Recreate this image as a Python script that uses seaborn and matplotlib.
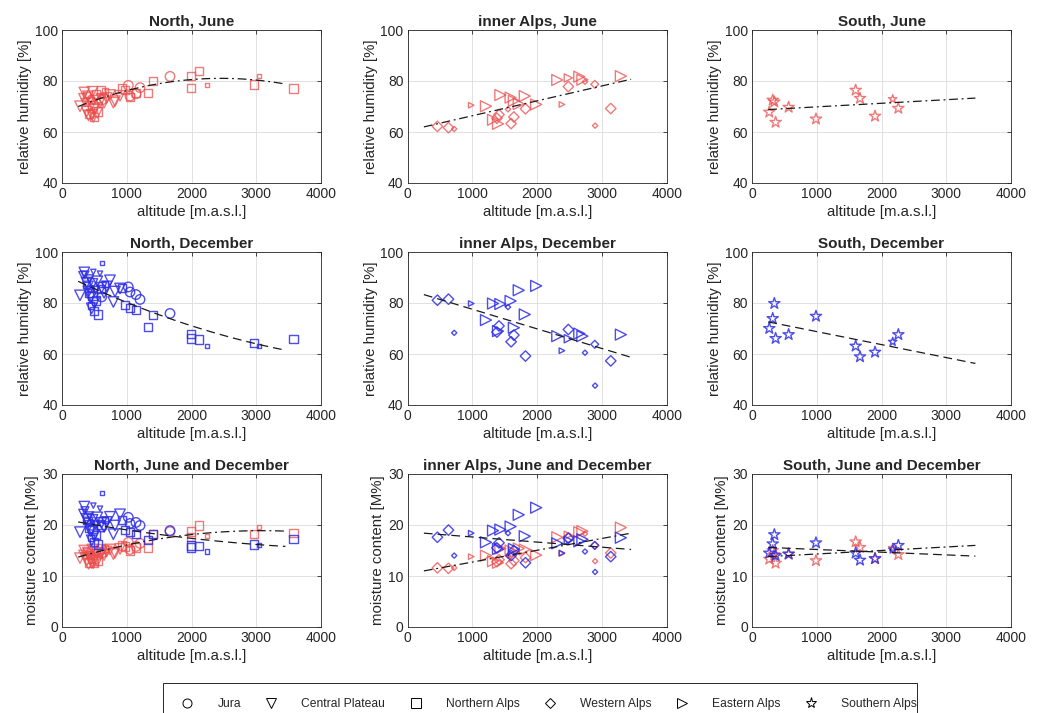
import numpy as np
import pandas as pd
import matplotlib
matplotlib.use("Agg")
import matplotlib.pyplot as plt
from matplotlib.lines import Line2D
from matplotlib.patches import Rectangle
import seaborn as sns

# ------------------------------------------------------------------
# Station data: altitude [m a.s.l.], weight class (1 small .. 3 large),
# relative humidity [%] and moisture content [M%] for June / December
# ------------------------------------------------------------------
jura_alt = [450, 613, 1024, 1050, 1143, 1205, 1668]
jura_w = [2, 3, 3, 3, 3, 3, 3]
jura_rh_jun = [73.0, 72.5, 78.3, 74.1, 75.0, 77.4, 81.8]
jura_rh_dec = [85.5, 82.4, 86.3, 84.3, 83.3, 81.4, 75.9]
jura_mc_jun = [14.6, 14.5, 16.6, 15.2, 15.8, 16.4, 18.7]
jura_mc_dec = [20.4, 19.6, 21.5, 20.3, 20.5, 19.9, 18.9]

plateau_alt = [278, 320, 345, 355, 380, 400, 410, 425, 440, 459, 470, 484,
               500, 520, 545, 587, 610, 650, 690, 741, 793, 818, 896]
plateau_w = [3, 2, 3, 2, 3, 3, 3, 2, 3, 3, 3, 1,
             3, 2, 3, 1, 3, 3, 3, 3, 3, 3, 3]
plateau_rh_jun = [70.1, 73.5, 75.5, 71.5, 68.0, 74.0, 66.5, 72.0, 70.0, 66.8, 75.8, 64.9,
                  69.0, 72.8, 67.5, 70.5, 73.0, 71.5, 73.4, 74.5, 71.5, 72.1, 74.2]
plateau_rh_dec = [83.0, 90.8, 92.0, 91.0, 88.0, 86.5, 84.5, 89.5, 82.0, 77.9, 87.5, 92.2,
                  80.0, 85.0, 88.5, 91.5, 86.0, 84.0, 86.5, 88.9, 80.4, 84.5, 85.7]
plateau_mc_jun = [13.5, 14.3, 15.0, 13.9, 13.0, 14.6, 12.4, 14.0, 13.4, 12.6, 15.2, 12.0,
                  13.2, 14.4, 12.9, 13.7, 14.5, 14.1, 14.8, 15.2, 14.3, 14.5, 15.3]
plateau_mc_dec = [18.6, 22.3, 23.6, 22.8, 21.2, 20.5, 19.8, 21.8, 18.8, 17.0, 21.0, 23.8,
                  18.0, 20.0, 21.5, 23.2, 20.4, 19.6, 20.6, 21.6, 18.2, 19.9, 22.1]

nalps_alt = [380, 420, 450, 470, 490, 520, 561, 600, 623, 660, 922, 973,
             1050, 1143, 1323, 1405, 1987, 1990, 2116, 2234, 2970, 3048, 3573]
nalps_w = [2, 3, 2, 3, 3, 3, 3, 3, 1, 2, 3, 3,
           3, 3, 3, 3, 3, 3, 3, 1, 3, 1, 3]
nalps_rh_jun = [74.5, 67.0, 72.5, 69.5, 66.0, 75.0, 68.0, 76.5, 74.0, 76.0, 77.0, 76.5,
                73.8, 75.3, 75.3, 79.9, 82.0, 77.2, 83.9, 78.4, 78.6, 82.0, 77.1]
nalps_rh_dec = [87.0, 84.0, 79.0, 83.0, 77.0, 81.0, 75.5, 85.5, 95.7, 87.5, 86.0, 79.1,
                78.1, 77.3, 70.5, 75.2, 67.8, 66.1, 65.7, 63.2, 64.3, 63.1, 66.0]
nalps_mc_jun = [14.8, 12.6, 14.2, 13.4, 12.5, 14.9, 13.0, 15.4, 15.0, 15.4, 16.0, 15.8,
                15.0, 15.6, 15.6, 18.3, 18.7, 17.6, 19.9, 17.8, 18.2, 19.6, 18.5]
nalps_mc_dec = [20.8, 19.5, 17.4, 19.2, 16.6, 18.1, 16.2, 20.1, 26.3, 21.0, 21.0, 19.0,
                18.6, 18.3, 17.0, 18.2, 16.0, 15.6, 15.9, 14.8, 16.2, 16.1, 17.3]

walps_alt = [459, 630, 718, 1378, 1410, 1549, 1597, 1640, 1819, 2481, 2738, 2889, 2894, 3136]
walps_w = [3, 3, 1, 3, 3, 1, 3, 3, 3, 3, 1, 2, 1, 3]
walps_rh_jun = [62.2, 61.7, 61.2, 65.4, 66.8, 68.9, 63.3, 65.9, 69.1, 77.8, 79.7, 78.7, 62.5, 69.2]
walps_rh_dec = [81.1, 81.5, 68.3, 68.6, 71.0, 78.4, 64.8, 67.4, 59.2, 69.6, 60.5, 63.8, 47.6, 57.3]
walps_mc_jun = [11.6, 11.5, 11.6, 12.8, 13.2, 14.0, 12.4, 13.0, 13.6, 17.5, 18.3, 16.0, 12.9, 14.5]
walps_mc_dec = [17.6, 19.0, 14.0, 15.5, 16.5, 18.4, 14.0, 15.0, 12.6, 17.4, 14.8, 16.0, 10.8, 13.8]

ealps_alt = [981, 1209, 1318, 1395, 1431, 1589, 1640, 1715, 1808, 1984, 2310, 2382,
             2481, 2650, 2698, 3292]
ealps_w = [1, 3, 3, 3, 3, 3, 3, 3, 3, 3, 3, 1, 2, 3, 3, 3]
ealps_rh_jun = [70.5, 70.1, 64.8, 63.2, 74.5, 73.5, 72.2, 71.0, 74.1, 70.8, 80.4, 70.8,
                81.2, 81.7, 80.5, 81.9]
ealps_rh_dec = [79.8, 73.3, 79.8, 69.0, 79.6, 80.8, 70.3, 85.0, 75.5, 86.7, 67.0, 61.3,
                66.0, 68.0, 67.0, 67.6]
ealps_mc_jun = [13.8, 14.0, 12.9, 12.6, 15.4, 15.0, 14.6, 15.4, 15.2, 14.1, 17.6, 14.4,
                18.0, 18.6, 18.8, 19.5]
ealps_mc_dec = [18.4, 16.6, 18.9, 15.3, 19.1, 19.7, 15.3, 22.0, 17.8, 23.4, 16.4, 14.5,
                17.0, 16.8, 17.2, 17.5]

salps_alt = [267, 320, 345, 365, 566, 988, 1601, 1668, 1900, 2173, 2260]
salps_w = [3, 3, 3, 3, 3, 3, 3, 3, 3, 2, 3]
salps_rh_jun = [67.8, 72.5, 71.8, 63.8, 69.7, 65.1, 76.4, 73.2, 66.2, 72.9, 69.3]
salps_rh_dec = [70.0, 73.9, 79.8, 66.1, 67.6, 74.8, 63.1, 58.9, 60.7, 64.8, 67.6]
salps_mc_jun = [13.3, 15.0, 14.2, 12.5, 14.3, 13.0, 16.7, 15.6, 13.4, 15.5, 14.2]
salps_mc_dec = [14.5, 16.3, 18.1, 14.0, 14.3, 16.5, 14.5, 13.1, 13.4, 15.2, 16.0]

# Regression curves: values at the evaluation nodes (polynomial through nodes)
trend_nodes_north = [250, 1850, 3450]
trend_nodes_linear = [250, 3450]
trend_north_rh_jun = [70.0, 80.2, 78.8]
trend_north_rh_dec = [88.5, 72.3, 61.5]
trend_north_mc_jun = [13.7, 17.9, 18.8]
trend_north_mc_dec = [20.6, 17.6, 15.8]
trend_inner_rh_jun = [62.0, 80.7]
trend_inner_rh_dec = [83.3, 58.7]
trend_inner_mc_jun = [11.0, 18.4]
trend_inner_mc_dec = [18.4, 15.2]
trend_south_rh_jun = [68.8, 73.3]
trend_south_rh_dec = [72.6, 56.3]
trend_south_mc_jun = [13.8, 16.0]
trend_south_mc_dec = [15.6, 13.9]

area_names = ["North", "inner Alps", "South"]
group_labels = ["Jura", "Central Plateau", "Northern Alps",
                "Western Alps", "Eastern Alps", "Southern Alps"]

# ------------------------------------------------------------------
# Assemble a long table
# ------------------------------------------------------------------
def station_frame(label, area, alt, w, rhj, rhd, mcj, mcd):
    return pd.DataFrame({"group": label, "area": area, "alt": alt, "w": w,
                         "rh_jun": rhj, "rh_dec": rhd, "mc_jun": mcj, "mc_dec": mcd})

df = pd.concat([
    station_frame("Jura", "North", jura_alt, jura_w, jura_rh_jun, jura_rh_dec, jura_mc_jun, jura_mc_dec),
    station_frame("Central Plateau", "North", plateau_alt, plateau_w, plateau_rh_jun, plateau_rh_dec,
                  plateau_mc_jun, plateau_mc_dec),
    station_frame("Northern Alps", "North", nalps_alt, nalps_w, nalps_rh_jun, nalps_rh_dec,
                  nalps_mc_jun, nalps_mc_dec),
    station_frame("Western Alps", "inner Alps", walps_alt, walps_w, walps_rh_jun, walps_rh_dec,
                  walps_mc_jun, walps_mc_dec),
    station_frame("Eastern Alps", "inner Alps", ealps_alt, ealps_w, ealps_rh_jun, ealps_rh_dec,
                  ealps_mc_jun, ealps_mc_dec),
    station_frame("Southern Alps", "South", salps_alt, salps_w, salps_rh_jun, salps_rh_dec,
                  salps_mc_jun, salps_mc_dec),
], ignore_index=True)

trends = {
    ("North", "rh", "jun"): (trend_nodes_north, trend_north_rh_jun),
    ("North", "rh", "dec"): (trend_nodes_north, trend_north_rh_dec),
    ("North", "mc", "jun"): (trend_nodes_north, trend_north_mc_jun),
    ("North", "mc", "dec"): (trend_nodes_north, trend_north_mc_dec),
    ("inner Alps", "rh", "jun"): (trend_nodes_linear, trend_inner_rh_jun),
    ("inner Alps", "rh", "dec"): (trend_nodes_linear, trend_inner_rh_dec),
    ("inner Alps", "mc", "jun"): (trend_nodes_linear, trend_inner_mc_jun),
    ("inner Alps", "mc", "dec"): (trend_nodes_linear, trend_inner_mc_dec),
    ("South", "rh", "jun"): (trend_nodes_linear, trend_south_rh_jun),
    ("South", "rh", "dec"): (trend_nodes_linear, trend_south_rh_dec),
    ("South", "mc", "jun"): (trend_nodes_linear, trend_south_mc_jun),
    ("South", "mc", "dec"): (trend_nodes_linear, trend_south_mc_dec),
}

# ------------------------------------------------------------------
# Styling
# ------------------------------------------------------------------
sns.set_style("white")
plt.rcParams["font.family"] = ["Liberation Sans", "DejaVu Sans"]

MARKERS = {"Jura": "o", "Central Plateau": "v", "Northern Alps": "s",
           "Western Alps": "D", "Eastern Alps": ">", "Southern Alps": "*"}
# full-size marker extent in pixels per marker shape
MARKER_PX = {"Jura": 9.5, "Central Plateau": 10.5, "Northern Alps": 8.3,
             "Western Alps": 7.4, "Eastern Alps": 11.0, "Southern Alps": 11.8}
WEIGHT_SCALE = {1: 0.5, 2: 0.75, 3: 1.0}
SEASON_COLOR = {"jun": (0.92, 0.3, 0.3), "dec": (0.18, 0.18, 0.9)}
SEASON_ALPHA = {"jun": 0.75, "dec": 0.85}
SEASON_DASH = {"jun": (0, (7, 3, 1.5, 3)), "dec": (0, (7, 4))}
SEASON_NAME = {"jun": "June", "dec": "December"}
AX_COLOR = "#262626"


def size_map(group):
    px_to_pt = 72.0 / 100.0
    return {w: (MARKER_PX[group] * f * px_to_pt) ** 2 for w, f in WEIGHT_SCALE.items()}


fig = plt.figure(figsize=(10.42, 7.13), dpi=100)
W, H = 1042.0, 713.0
col_left = [62, 407.7, 752]
row_bottom = [183, 405, 627]
ax_w, ax_h = 259, 153

rows = [("rh", ["jun"]), ("rh", ["dec"]), ("mc", ["jun", "dec"])]

for r, (var, seasons) in enumerate(rows):
    for c, area in enumerate(area_names):
        ax = fig.add_axes([col_left[c] / W, 1 - row_bottom[r] / H, ax_w / W, ax_h / H])
        sub_area = df[df["area"] == area]
        for season in seasons:
            col = SEASON_COLOR[season]
            for group in sub_area["group"].unique():
                sub = sub_area[sub_area["group"] == group]
                sns.scatterplot(data=sub, x="alt", y=f"{var}_{season}", size="w",
                                sizes=size_map(group), marker=MARKERS[group],
                                color=col, facecolor="none", edgecolor=col,
                                linewidth=1.0, alpha=SEASON_ALPHA[season],
                                legend=False, ax=ax, zorder=2)
        for season in seasons:
            nodes, vals = trends[(area, var, season)]
            coef = np.polyfit(nodes, vals, len(nodes) - 1)
            xs = np.linspace(nodes[0], nodes[-1], 120)
            sns.lineplot(x=xs, y=np.polyval(coef, xs), color="#1a1a1a", linewidth=0.9,
                         linestyle=SEASON_DASH[season], ax=ax, zorder=3)

        ax.set_xlim(0, 4000)
        ax.set_xticks([0, 1000, 2000, 3000, 4000])
        if var == "rh":
            ax.set_ylim(40, 100)
            ax.set_yticks([40, 60, 80, 100])
            ax.set_ylabel("relative humidity [%]", fontsize=10.8, color=AX_COLOR, labelpad=2)
        else:
            ax.set_ylim(0, 30)
            ax.set_yticks([0, 10, 20, 30])
            ax.set_ylabel("moisture content [M%]", fontsize=10.8, color=AX_COLOR, labelpad=2)
        ax.set_xlabel("altitude [m.a.s.l.]", fontsize=10.8, color=AX_COLOR, labelpad=3)
        title = f"{area}, " + " and ".join(SEASON_NAME[s] for s in seasons)
        ax.set_title(title, fontsize=11, fontweight="bold", pad=3)
        ax.grid(True, color="#dcdcdc", linewidth=0.6)
        ax.set_axisbelow(True)
        ax.tick_params(direction="in", top=True, right=True, length=3, width=0.6,
                       labelsize=10, colors=AX_COLOR, pad=3)
        for sp in ax.spines.values():
            sp.set_color(AX_COLOR)
            sp.set_linewidth(0.6)

# legend row along the bottom edge
legend_px = {"Western Alps": 5.4, "Southern Alps": 8.0}
handles = [Line2D([], [], marker=MARKERS[g], linestyle="none", markerfacecolor="none",
                  markeredgecolor="black", markeredgewidth=0.7,
                  markersize=legend_px.get(g, 6.5))
           for g in group_labels]
leg = fig.legend(handles, group_labels, loc="upper left", bbox_to_anchor=(163 / W, 1 - 683 / H),
                 ncol=6, frameon=False, fontsize=8.7, handlelength=1.5,
                 handletextpad=1.75, columnspacing=1.75, borderpad=1.25, borderaxespad=0)
fig.patches.append(Rectangle((163 / W, -0.02), (917 - 163) / W, (713 - 683) / H + 0.02,
                             transform=fig.transFigure, fill=False,
                             edgecolor=AX_COLOR, linewidth=0.7))

fig.savefig("out.png", dpi=100)
